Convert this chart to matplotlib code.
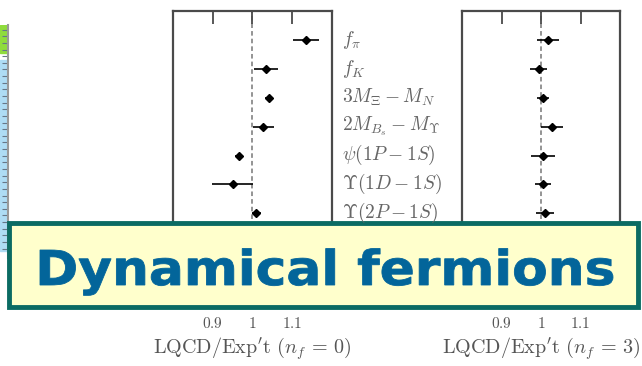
import numpy as np
import matplotlib.pyplot as plt
from matplotlib.patches import Rectangle, PathPatch
from matplotlib.textpath import TextPath
from matplotlib.font_manager import FontProperties
from matplotlib.transforms import Affine2D

# quantities (rows, top to bottom) - rows hidden under the banner are not shown
labels = [r'$f_\pi$', r'$f_K$', r'$3M_\Xi - M_N$', r'$2M_{B_s} - M_\Upsilon$',
          r'$\psi(1P - 1S)$', r'$\Upsilon(1D - 1S)$', r'$\Upsilon(2P - 1S)$']

# LQCD / experiment, quenched (n_f = 0)
ratio_nf0 = [1.134, 1.033, 1.041, 1.027, 0.967, 0.950, 1.010]
err_nf0 = [0.033, 0.030, 0.010, 0.026, 0.010, 0.052, 0.012]

# LQCD / experiment, n_f = 3
ratio_nf3 = [1.018, 0.994, 1.005, 1.028, 1.005, 1.005, 1.010]
err_nf3 = [0.028, 0.022, 0.014, 0.028, 0.030, 0.020, 0.022]

ticks = [0.9, 1.0, 1.1]
tick_labels = ['$0.9$', '$1$', '$1.1$']
xlabels = [r"$\mathrm{LQCD/Exp't}\ (n_f\,=\,0)$", r"$\mathrm{LQCD/Exp't}\ (n_f\,=\,3)$"]

plt.rcParams['mathtext.fontset'] = 'cm'

W, H = 642, 366
fig = plt.figure(figsize=(W / 100, H / 100), dpi=100)


def frac(x0, y0, x1, y1):
    return [x0 / W, 1 - y1 / H, (x1 - x0) / W, (y1 - y0) / H]


grey = '#4a4a4a'
ypos = np.arange(len(labels))

for (x0, x1), vals, errs, xl in [((173, 332), ratio_nf0, err_nf0, xlabels[0]),
                                  ((462, 620), ratio_nf3, err_nf3, xlabels[1])]:
    ax = fig.add_axes(frac(x0, 11, x1, 303))
    ax.axvline(1.0, color='#777777', lw=1.1, ls=(0, (3, 2)), zorder=1)
    ax.errorbar(vals, ypos, xerr=errs, fmt='D', color='black', ms=4.5,
                elinewidth=1.2, capsize=0, zorder=3)
    ax.set_xlim(0.8, 1.2)
    ax.set_ylim(9.1, -1.0)
    ax.set_yticks([])
    ax.set_xticks(ticks)
    ax.set_xticklabels(tick_labels, fontsize=11, color='#555555')
    ax.tick_params(axis='x', direction='in', top=True, bottom=True,
                   length=9, width=1.3, color=grey, pad=9)
    for s in ax.spines.values():
        s.set_color(grey)
        s.set_linewidth(1.6)
    ax.set_xlabel(xl, fontsize=14.5, color='#555555', labelpad=3)

# row labels between the panels
for lab, y in zip(labels, ypos):
    fig.text(342 / W, 1 - (40 + 28.8 * y) / H, lab, fontsize=14,
             color='#666666', va='center', ha='left')

# sliver of a neighbouring chart at the left edge
ax_s = fig.add_axes(frac(0, 25, 8, 258))
ax_s.add_patch(Rectangle((0, 0.88), 1, 0.12, color='#8fdc3c'))
ax_s.add_patch(Rectangle((0, 0.03), 1, 0.82, color='#aedcf4'))
ax_s.set_xlim(0, 1)
ax_s.set_ylim(0, 1)
ax_s.set_xticks([])
ax_s.set_yticks(np.linspace(0.04, 0.98, 34))
ax_s.set_yticklabels([])
ax_s.tick_params(axis='y', left=False, right=True, direction='in',
                 length=4, width=0.8, color='#667788')
for k, s in ax_s.spines.items():
    s.set_visible(k == 'right')
ax_s.spines['right'].set_color('#999999')
ax_s.spines['right'].set_linewidth(1.5)

# banner
ov = fig.add_axes([0, 0, 1, 1])
ov.set_xlim(0, W)
ov.set_ylim(0, H)
ov.axis('off')
ov.add_patch(Rectangle((9, H - 307), 629, 84, facecolor='#ffffcc',
                       edgecolor='#0b6b63', lw=3.5))
tp = TextPath((0, 0), 'Dynamical fermions', size=48,
              prop=FontProperties(family='DejaVu Sans', weight='bold'))
bb = tp.get_extents()
sx = 573 / bb.width
tr = Affine2D().translate(-bb.x0, 0).scale(sx, 1.0).translate(40, H - 285)
ov.add_patch(PathPatch(tr.transform_path(tp), facecolor='#03659a',
                       edgecolor='#03659a', lw=0.6))

fig.savefig('out.png', dpi=100)
